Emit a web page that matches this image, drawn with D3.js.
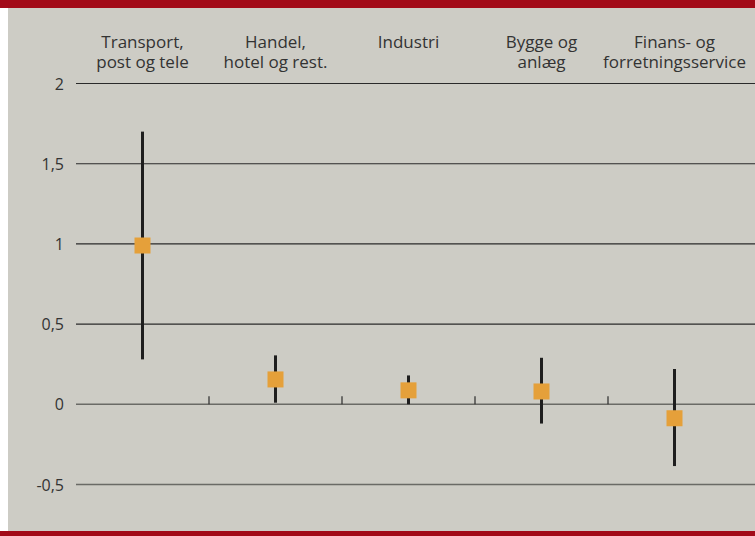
<!DOCTYPE html>
<html>
<head>
<meta charset="utf-8">
<script src="https://cdnjs.cloudflare.com/ajax/libs/d3/7.8.5/d3.min.js"></script>
<style>
  body { margin: 0; background: #fff; }
  text { font-family: "Open Sans", "Noto Sans", sans-serif; }
</style>
</head>
<body>
<div id="chart"></div>
<script>
//Size of the page
var W = 755, H = 536;

//Data
var categories = [["Transport,", "post og tele"], ["Handel,", "hotel og rest."], ["Industri"],
                  ["Bygge og", "anlæg"], ["Finans- og", "forretningsservice"]];
var pointValues = [0.99, 0.155, 0.087, 0.08, -0.087];
var lowValues = [0.28, 0.01, 0.0, -0.12, -0.385];
var highValues = [1.70, 0.305, 0.18, 0.29, 0.22];
var yTicks = [2, 1.5, 1, 0.5, 0, -0.5];

var rows = categories.map(function(c, i) {
  return {name: c, pt: pointValues[i], lo: lowValues[i], hi: highValues[i], i: i};
});

var svg = d3.select("#chart").append("svg")
  .attr("width", W)
  .attr("height", H);

//Grey panel and red bars
svg.append("rect").attr("x", 8).attr("y", 0).attr("width", W - 8).attr("height", H).attr("fill", "#cdccc5");
svg.append("rect").attr("x", 0).attr("y", 0).attr("width", W).attr("height", 8).attr("fill", "#a20a18");
svg.append("rect").attr("x", 0).attr("y", 531).attr("width", W).attr("height", 5).attr("fill", "#a20a18");

//Scales
var x = d3.scaleBand().domain(d3.range(categories.length)).range([76, 741]);
var y = d3.scaleLinear().domain([-0.5, 2]).range([484.5, 83.5]);

//Gridlines
svg.append("g").selectAll("line")
  .data(yTicks).enter().append("line")
  .attr("x1", 76).attr("x2", W)
  .attr("y1", function(d) { return y(d); })
  .attr("y2", function(d) { return y(d); })
  .attr("stroke", function(d) { return d <= 0 ? "#6a6a66" : "#2a2a2a"; })
  .attr("stroke-width", function(d) { return d <= 0 ? 1.6 : 1.1; });

//Y labels (comma decimals, plain hyphen)
svg.append("g").selectAll("text")
  .data(yTicks).enter().append("text")
  .attr("x", 64)
  .attr("y", function(d) { return y(d) + 6; })
  .attr("text-anchor", "end")
  .attr("font-size", 16)
  .attr("fill", "#333")
  .text(function(d) { return String(d).replace(".", ","); });

//Small ticks between categories on the zero line
svg.append("g").selectAll("line")
  .data(d3.range(1, categories.length)).enter().append("line")
  .attr("x1", function(d) { return x(d); })
  .attr("x2", function(d) { return x(d); })
  .attr("y1", y(0) - 8).attr("y2", y(0))
  .attr("stroke", "#2a2a2a")
  .attr("stroke-width", 1.2);

//Category labels
var lab = svg.append("g").selectAll("text")
  .data(rows).enter().append("text")
  .attr("text-anchor", "middle")
  .attr("font-size", 17)
  .attr("fill", "#333");
lab.selectAll("tspan")
  .data(function(d) { return d.name.map(function(s) { return {s: s, i: d.i}; }); })
  .enter().append("tspan")
  .attr("x", function(d) { return x(d.i) + x.bandwidth() / 2; })
  .attr("y", function(d, j) { return 48 + j * 20; })
  .text(function(d) { return d.s; });

//Ranges
svg.append("g").selectAll("line")
  .data(rows).enter().append("line")
  .attr("x1", function(d) { return x(d.i) + x.bandwidth() / 2; })
  .attr("x2", function(d) { return x(d.i) + x.bandwidth() / 2; })
  .attr("y1", function(d) { return y(d.hi); })
  .attr("y2", function(d) { return y(d.lo); })
  .attr("stroke", "#1e1e1e")
  .attr("stroke-width", 3);

//Points
var s = 16;
svg.append("g").selectAll("rect")
  .data(rows).enter().append("rect")
  .attr("x", function(d) { return x(d.i) + x.bandwidth() / 2 - s / 2; })
  .attr("y", function(d) { return y(d.pt) - s / 2; })
  .attr("width", s).attr("height", s)
  .attr("fill", "#e5a03a");
</script>
</body>
</html>
